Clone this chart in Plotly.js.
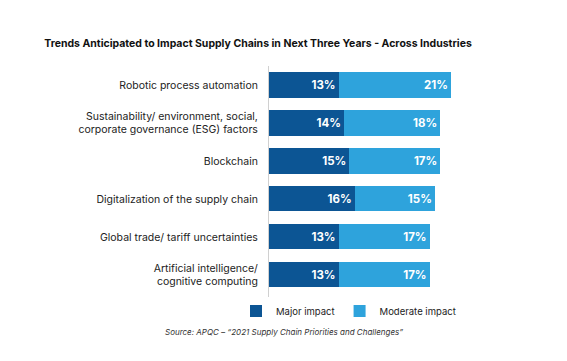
<!DOCTYPE html>
<html>
<head>
<meta charset="utf-8">
<script src="https://cdn.plot.ly/plotly-3.0.1.min.js"></script>
<style>html,body{margin:0;padding:0;background:#fff;}#chart{width:567px;height:361px;}</style>
</head>
<body>
<div id="chart"></div>
<script>
const categories = [
  "Robotic process automation",
  "Sustainability/ environment, social,<br>corporate governance (ESG) factors",
  "Blockchain",
  "Digitalization of the supply chain",
  "Global trade/ tariff uncertainties",
  "Artificial intelligence/<br>cognitive computing"
];
const majorImpact = [13, 14, 15, 16, 13, 13];
const moderateImpact = [21, 18, 17, 15, 17, 17];
const seriesNames = ["Major impact", "Moderate impact"];

const FONT = "Inter, 'Open Sans', sans-serif";
const textFont = {family: FONT, size: 11.5, color: "#ffffff", weight: 700};

const traces = [
  {
    type: "bar", orientation: "h", name: seriesNames[0],
    y: categories, x: majorImpact,
    marker: {color: "#0c5594"},
    text: majorImpact.map(v => v + "%"), textposition: "inside",
    insidetextanchor: "end", textfont: textFont, hoverinfo: "none"
  },
  {
    type: "bar", orientation: "h", name: seriesNames[1],
    y: categories, x: moderateImpact,
    marker: {color: "#2ea3dc"},
    text: moderateImpact.map(v => v + "%"), textposition: "inside",
    insidetextanchor: "end", textfont: textFont, hoverinfo: "none"
  }
];

const W = 567, H = 361;
const margin = {l: 269, r: 84, t: 66, b: 61};
const pw = W - margin.l - margin.r, ph = H - margin.t - margin.b;
const px = x => (x - margin.l) / pw;
const py = y => (H - margin.b - y) / ph;

const layout = {
  width: W, height: H,
  paper_bgcolor: "#fff", plot_bgcolor: "#fff",
  margin: margin,
  barmode: "stack", bargap: 0.34,
  showlegend: true,
  title: {
    text: "<b>Trends Anticipated to Impact Supply Chains in Next Three Years - Across Industries</b>",
    font: {family: FONT, size: 10.5, color: "#111"},
    xref: "container", yref: "container",
    x: 258 / W, xanchor: "center", y: 1 - 43 / H, yanchor: "middle"
  },
  xaxis: {range: [0, 40], showgrid: false, zeroline: false, showticklabels: false, showline: false, fixedrange: true},
  yaxis: {
    type: "category", range: [5.66, -0.5],
    showgrid: false, zeroline: false,
    showline: true, linecolor: "#d0d0d0", linewidth: 1,
    ticks: "", ticklabelstandoff: 8,
    tickfont: {family: FONT, size: 10.5, color: "#222"}
  },
  legend: {
    orientation: "h", x: px(236), xanchor: "left", y: py(311), yanchor: "middle",
    font: {family: FONT, size: 9.5, color: "#222"},
    traceorder: "normal"
  },
  annotations: [{
    text: "<i>Source: APQC – “2021 Supply Chain Priorities and Challenges”</i>",
    xref: "paper", yref: "paper", x: px(163), xanchor: "left",
    y: py(332), yanchor: "middle", showarrow: false,
    font: {family: FONT, size: 8, color: "#333"}
  }]
};

Plotly.newPlot("chart", traces, layout, {displayModeBar: false, staticPlot: true});
</script>
</body>
</html>
